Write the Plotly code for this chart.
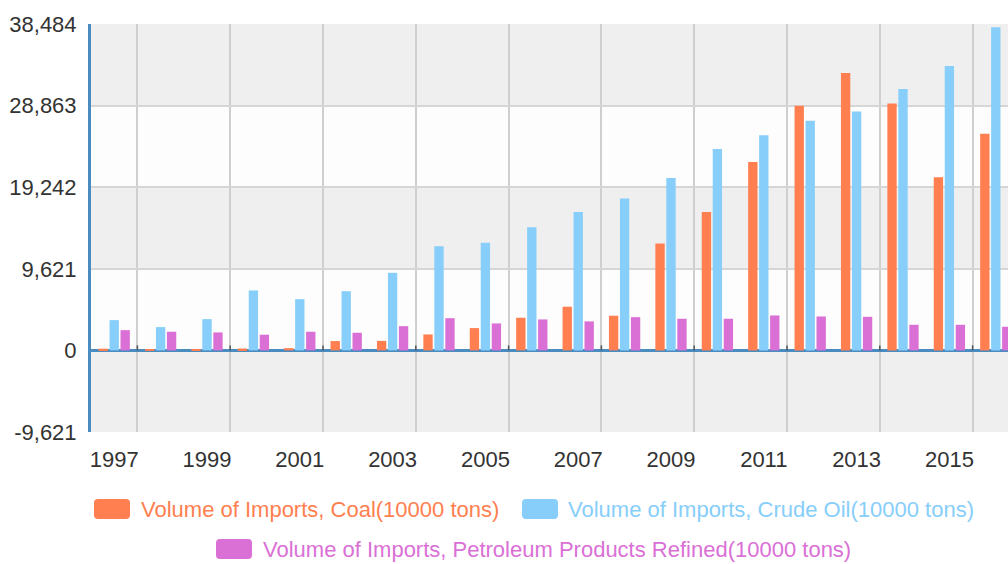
import plotly.graph_objects as go

# Annual import volumes (10000 tons)
years = list(range(1997, 2017))
coal = [200, 160, 170, 220, 270, 1100, 1120, 1880, 2630, 3850,
        5150, 4090, 12600, 16330, 22220, 28850, 32700, 29120, 20410, 25550]
crude_oil = [3570, 2745, 3690, 7070, 6040, 6980, 9150, 12280, 12680, 14520,
             16330, 17900, 20340, 23750, 25360, 27090, 28180, 30820, 33530, 38100]
petroleum = [2390, 2200, 2120, 1850, 2200, 2080, 2860, 3800, 3180, 3650,
             3420, 3920, 3730, 3730, 4120, 4000, 3960, 3020, 3020, 2790]

series_names = [
    "Volume of Imports, Coal(10000 tons)",
    "Volume of Imports, Crude Oil(10000 tons)",
    "Volume of Imports, Petroleum Products Refined(10000 tons)",
]
series_colors = ["#FF7F50", "#87CEFA", "#DA70D6"]

y_step = 9621
y_ticks = [-y_step, 0, y_step, 2 * y_step, 3 * y_step, 4 * y_step]
y_tick_text = [f"{v:,}" for v in y_ticks]
x_labels = years[::2]
x_bounds = [y + 0.5 for y in years[::2]]

FONT = "Liberation Sans, Arial, Helvetica, sans-serif"
AXIS_BLUE = "#4a8bc0"

# figure geometry (pixels)
W, H = 1008, 564
ML, MR, MT, MB = 91, 0, 24, 132
PW, PH = W - ML - MR, H - MT - MB


def px_x(x):
    return (x - ML) / PW


def px_y(y):
    return (H - MB - y) / PH


fig = go.Figure()
for name, vals, color in zip(series_names, [coal, crude_oil, petroleum], series_colors):
    fig.add_trace(go.Bar(
        x=years, y=vals, name=name,
        marker=dict(color=color, line=dict(width=0)),
        showlegend=False,
    ))

shapes = []
# alternating horizontal bands
for i, (lo, hi) in enumerate(zip(y_ticks[:-1], y_ticks[1:])):
    shapes.append(dict(
        type="rect", xref="paper", yref="y", x0=0, x1=1, y0=lo, y1=hi,
        fillcolor="#efefef" if i % 2 == 0 else "#fdfdfd",
        line=dict(width=0), layer="below",
    ))

# small tick marks on the zero line at the grid boundaries
for xb in x_bounds:
    shapes.append(dict(
        type="line", xref="x", yref="y", ysizemode="pixel", yanchor=0,
        x0=xb, x1=xb, y0=0, y1=5,
        line=dict(color="#555555", width=1.5), layer="above",
    ))


def rounded_rect(x0, y0, x1, y1, r):
    """Rounded rectangle path, given in screen pixels, returned in paper units."""
    def P(x, y):
        return f"{px_x(x):.5f},{px_y(y):.5f}"

    return (
        f"M {P(x0 + r, y0)} L {P(x1 - r, y0)} Q {P(x1, y0)} {P(x1, y0 + r)} "
        f"L {P(x1, y1 - r)} Q {P(x1, y1)} {P(x1 - r, y1)} "
        f"L {P(x0 + r, y1)} Q {P(x0, y1)} {P(x0, y1 - r)} "
        f"L {P(x0, y0 + r)} Q {P(x0, y0)} {P(x0 + r, y0)} Z"
    )


# legend: swatch box (x0, y0) and text start for each series
legend_items = [
    (94, 499, 140),
    (522, 499, 567),
    (216, 539, 262),
]
annotations = []
for (sx, sy, tx), name, color in zip(legend_items, series_names, series_colors):
    shapes.append(dict(
        type="path", xref="paper", yref="paper",
        path=rounded_rect(sx, sy, sx + 36, sy + 20, 4),
        fillcolor=color, line=dict(width=0), layer="above",
    ))
    annotations.append(dict(
        xref="paper", yref="paper", x=px_x(tx), y=px_y(sy + 10),
        xanchor="left", yanchor="middle", showarrow=False, borderpad=0,
        text=name, font=dict(family=FONT, size=22, color=color),
    ))

fig.update_layout(
    width=W, height=H, autosize=False,
    margin=dict(l=ML, r=MR, t=MT, b=MB, pad=0),
    paper_bgcolor="white", plot_bgcolor="white",
    barmode="group", bargap=0.29, bargroupgap=0.15,
    font=dict(family=FONT, size=22, color="#333333"),
    shapes=shapes, annotations=annotations,
    showlegend=False,
    xaxis=dict(
        range=[1996.5, 1996.5 + PW / 46.4],
        tickmode="array", tickvals=x_labels, ticktext=[str(v) for v in x_labels],
        showgrid=False, zeroline=False, showline=False, ticks="",
        ticklabelstandoff=12,
        tickfont=dict(family=FONT, size=22, color="#333333"),
        minor=dict(tickmode="array", tickvals=x_bounds, showgrid=True,
                   gridcolor="#cfcfcf", gridwidth=1.5, ticks=""),
    ),
    yaxis=dict(
        range=[y_ticks[0], y_ticks[-1]],
        tickmode="array", tickvals=y_ticks, ticktext=y_tick_text,
        showgrid=True, gridcolor="#d6d6d6", gridwidth=1.5,
        zeroline=True, zerolinecolor=AXIS_BLUE, zerolinewidth=3,
        showline=True, linecolor=AXIS_BLUE, linewidth=3,
        ticks="", ticklabelstandoff=7,
        tickfont=dict(family=FONT, size=22, color="#333333"),
    ),
)

fig.write_html("out.html")
